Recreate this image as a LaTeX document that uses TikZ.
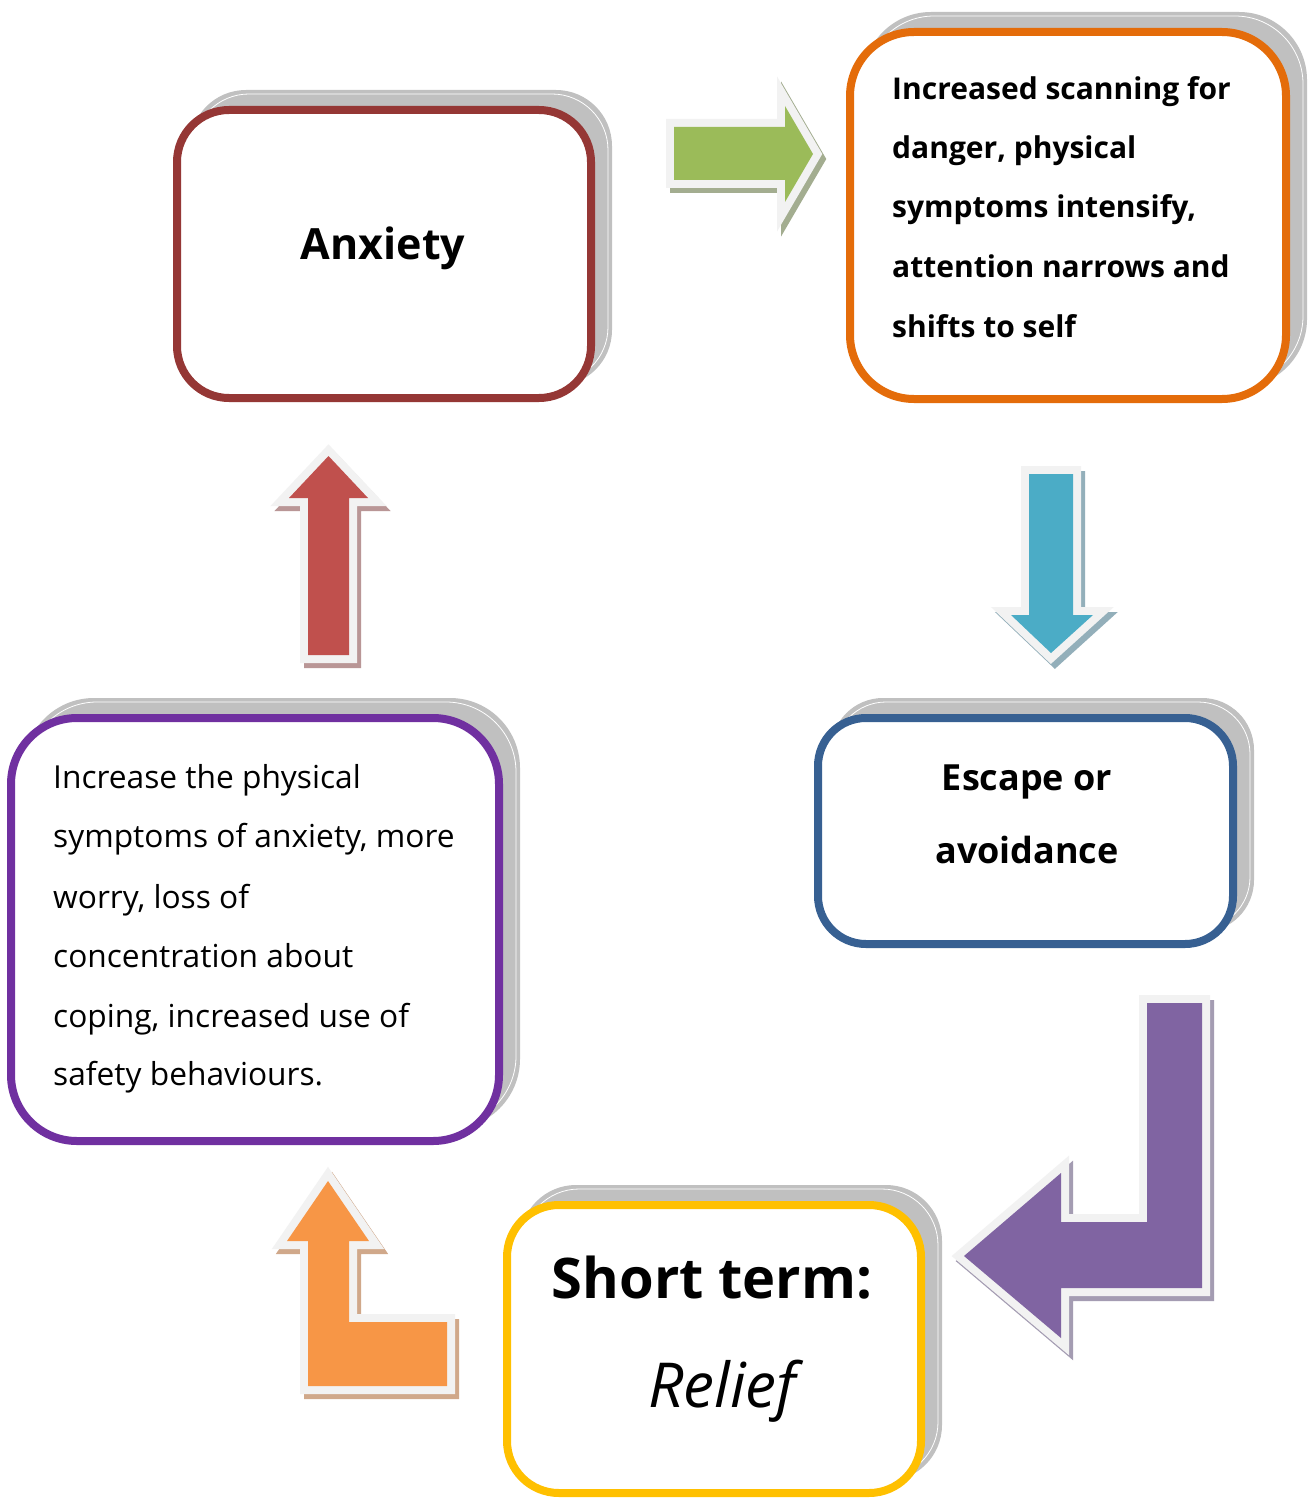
\documentclass[tikz,border=0pt]{standalone}
\usepackage{fontspec}
\setmainfont{Open Sans}
\usetikzlibrary{calc,backgrounds}
\definecolor{anxcol}{HTML}{953735}
\definecolor{orgcol}{HTML}{E46C0A}
\definecolor{blucol}{HTML}{376092}
\definecolor{purcol}{HTML}{7030A0}
\definecolor{yelcol}{HTML}{FFC000}
\definecolor{shgray}{HTML}{C0C0C0}
\definecolor{outl}{HTML}{F2F2F2}
\definecolor{grfill}{HTML}{9BBB59}
\definecolor{grsh}{HTML}{A3AD90}
\definecolor{blfill}{HTML}{4BACC6}
\definecolor{blsh}{HTML}{93AFBA}
\definecolor{rdfill}{HTML}{C0504D}
\definecolor{rdsh}{HTML}{B99696}
\definecolor{pufill}{HTML}{8064A2}
\definecolor{push}{HTML}{A49CB2}
\definecolor{orfill}{HTML}{F79646}
\definecolor{orsh}{HTML}{D0A88A}
\tikzset{
  cbox/.style={draw=#1, line width=8pt, fill=white, inner sep=0pt},
  aout/.style={draw=outl, fill=outl, line width=16pt, line join=miter, miter limit=10},
  ashadow/.style={draw=#1, fill=#1, line width=16pt, line join=miter, miter limit=10, shift={(4,5)}},
  txtb/.style={font=\bfseries\fontsize{30}{36}\selectfont, anchor=base west, inner sep=0pt},
  txtr/.style={font=\fontsize{31.7}{36}\selectfont, anchor=base west, inner sep=0pt},
}
\begin{document}
\begin{tikzpicture}[x=1pt,y=-1pt]
\useasboundingbox (0,0) rectangle (1311,1506);

% boxes
\node[cbox=anxcol, rounded corners=52pt, minimum width=414pt, minimum height=288pt] (anx) at (384,254) {};
\node[cbox=orgcol, rounded corners=64pt, minimum width=436pt, minimum height=367pt] (scan) at (1068,215.5) {};
\node[cbox=blucol, rounded corners=48pt, minimum width=415pt, minimum height=226pt] (esc) at (1025.5,831) {};
\node[cbox=purcol, rounded corners=66pt, minimum width=488pt, minimum height=423pt] (incr) at (255,929.5) {};
\node[cbox=yelcol, rounded corners=52pt, minimum width=414pt, minimum height=288pt] (rel) at (714,1349) {};

\begin{scope}[on background layer]
\fill[white] (0,0) rectangle (1311,1506);
\foreach \n/\r in {anx/56, scan/68, esc/52, incr/70, rel/56}{
  \fill[shgray, rounded corners=\r pt] ($(\n.north west)+(17,-16)$) rectangle ($(\n.south east)+(17,-16)$);
  \draw[white, line width=0.8pt, rounded corners=\r pt] ($(\n.north west)+(20,-12)$) rectangle ($(\n.south east)+(13,-19)$);
}
\end{scope}

% texts
\node[font=\bfseries\fontsize{43}{48}\selectfont, anchor=base, inner sep=0pt] (tanx) at (383,260) {Anxiety};

\node[txtb] (o1) at (892,100) {Increased scanning for};
\node[txtb] (o2) at (892,159) {danger, physical};
\node[txtb] (o3) at (892,218) {symptoms intensify,};
\node[txtb] (o4) at (892,277) {attention narrows and};
\node[txtb] (o5) at (892,337) {shifts to self};

\node[font=\bfseries\fontsize{36}{40}\selectfont, anchor=base, inner sep=0pt] (e1) at (1027,790) {Escape or};
\node[font=\bfseries\fontsize{36}{40}\selectfont, anchor=base, inner sep=0pt] (e2) at (1027,863) {avoidance};

\node[txtr] (p1) at (53,788) {Increase the physical};
\node[txtr] (p2) at (53,847) {symptoms of anxiety, more};
\node[txtr] (p3) at (53,908) {worry, loss of};
\node[txtr] (p4) at (53,967) {concentration about};
\node[txtr] (p5) at (53,1027) {coping, increased use of};
\node[txtr] (p6) at (53,1085) {safety behaviours.};

\node[font=\bfseries\fontsize{56}{60}\selectfont, anchor=base, inner sep=0pt] (s1) at (712,1298) {Short term:};
\node[font=\itshape\fontsize{62}{66}\selectfont, anchor=base, inner sep=0pt] (s2) at (722,1407) {Relief};

% block arrows
\def\greenpath{(674,127) -- (785,127) -- (785,106) -- (813,154) -- (785,202) -- (785,180) -- (674,180) -- cycle}
\def\bluepath{(1029,474) -- (1073,474) -- (1073,615) -- (1093,615) -- (1051,653) -- (1011,615) -- (1029,615) -- cycle}
\def\redpath{(308,655) -- (308,498) -- (289,498) -- (328.5,456) -- (368,498) -- (349,498) -- (349,655) -- cycle}
\def\purplepath{(1147,1003) -- (1202,1003) -- (1202,1288) -- (1061,1288) -- (1061,1338) -- (964,1256) -- (1061,1173) -- (1061,1222) -- (1147,1222) -- cycle}
\def\orangepath{(308,1386) -- (308,1241) -- (287,1241) -- (328,1181) -- (369,1241) -- (349,1241) -- (349,1322) -- (447,1322) -- (447,1386) -- cycle}

\draw[ashadow=grsh] \greenpath;
\draw[aout] \greenpath;
\fill[grfill] \greenpath;

\draw[ashadow=blsh] \bluepath;
\draw[aout] \bluepath;
\fill[blfill] \bluepath;

\draw[ashadow=rdsh] \redpath;
\draw[aout] \redpath;
\fill[rdfill] \redpath;

\draw[ashadow=push] \purplepath;
\draw[aout] \purplepath;
\fill[pufill] \purplepath;

\draw[ashadow=orsh] \orangepath;
\draw[aout] \orangepath;
\fill[orfill] \orangepath;
\end{tikzpicture}
\end{document}
